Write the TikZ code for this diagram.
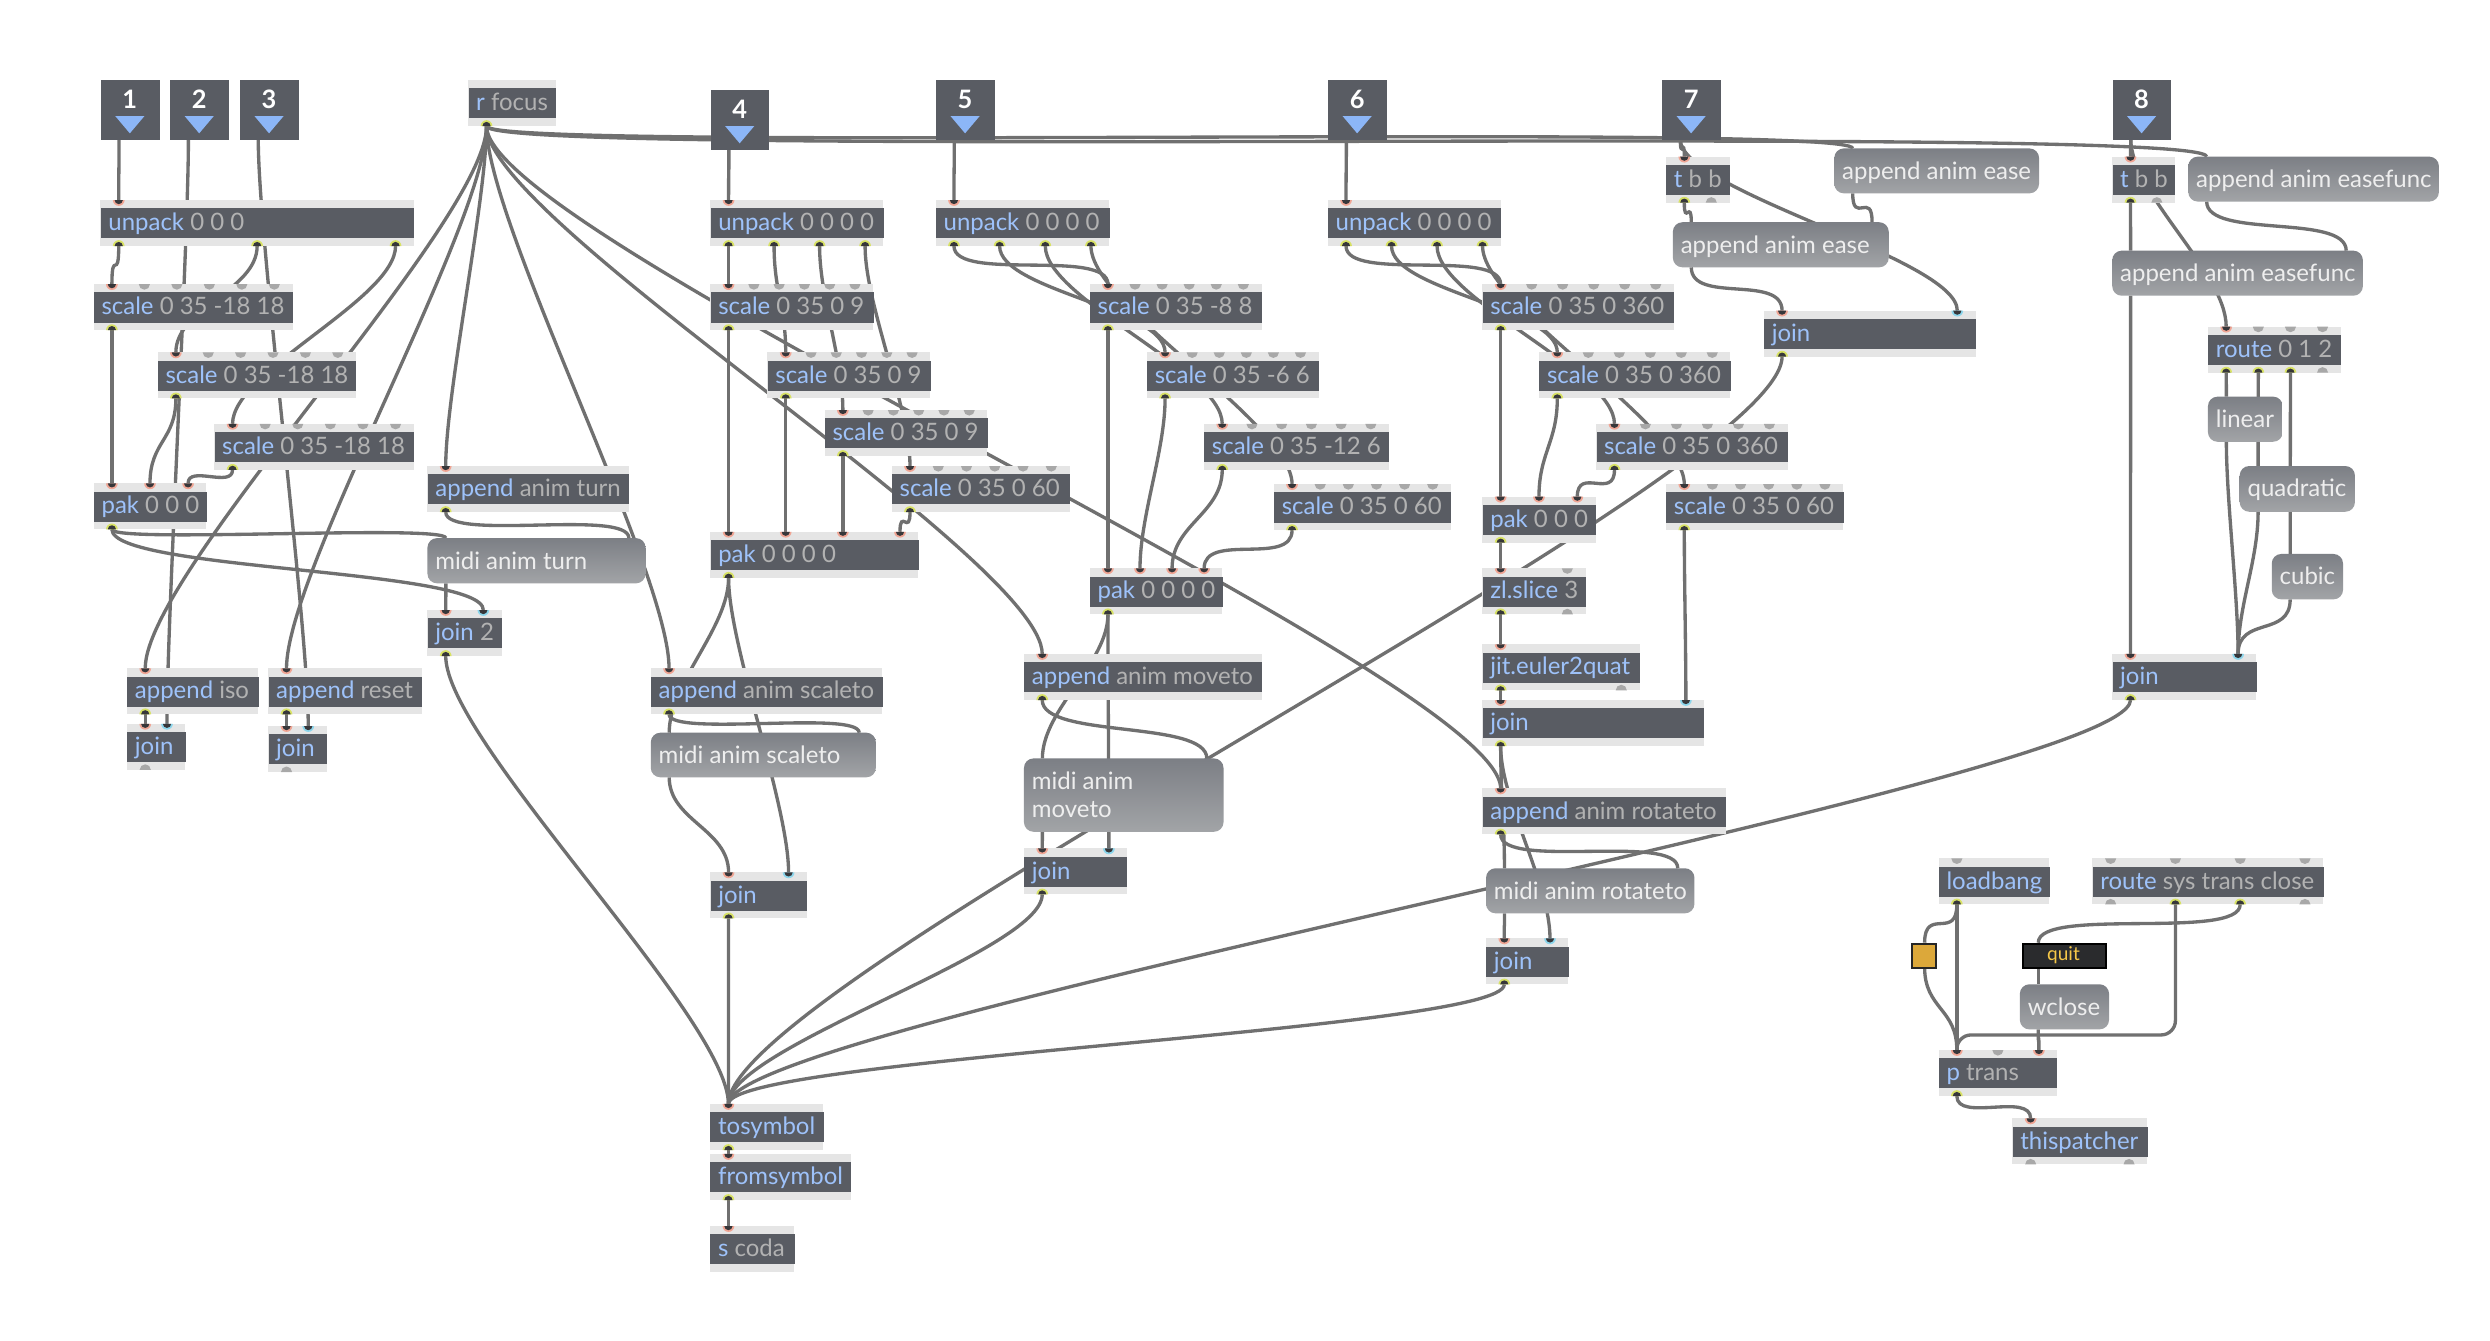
\documentclass[tikz,border=0pt]{standalone}
\usepackage{fontspec}
\setmainfont{Lato}
\usetikzlibrary{calc}
\definecolor{objfill}{RGB}{89,92,99}
\definecolor{stripc}{RGB}{229,229,229}
\definecolor{clsc}{RGB}{158,194,250}
\definecolor{argc}{RGB}{178,178,178}
\definecolor{msgtop}{RGB}{124,127,133}
\definecolor{msgbot}{RGB}{162,164,167}
\definecolor{msgtxt}{RGB}{238,238,238}
\definecolor{tric}{RGB}{140,182,247}
\definecolor{ringh}{RGB}{240,165,148}
\definecolor{ringc}{RGB}{140,214,236}
\definecolor{ringy}{RGB}{216,226,100}
\definecolor{dotcore}{RGB}{55,55,58}
\definecolor{dotg}{RGB}{168,168,168}
\definecolor{cordc}{RGB}{112,112,112}
\definecolor{togc}{RGB}{220,168,58}
\definecolor{quitc}{RGB}{42,43,45}
\definecolor{quittxt}{RGB}{246,200,72}
\pgfdeclarelayer{bg}\pgfdeclarelayer{cords}
\pgfsetlayers{bg,cords,main}
\tikzset{
 cordst/.style={draw=cordc, line width=2.1pt},
 objtext/.style={inner sep=0pt, font=\fontsize{15.1}{18}\selectfont},
 msgtext/.style={inner sep=0pt, font=\fontsize{15.1}{18}\selectfont, text=msgtxt},
 numtext/.style={inner sep=0pt, font=\fontsize{16}{18}\selectfont\bfseries, text=white},
 boxfill/.style={fill=objfill, inner sep=0pt, anchor=north west},
}
\newcommand\mcount[1]{\gdef\mn{0}\foreach \s in {#1}{\pgfmathtruncatemacro\mtmp{\mn+1}\global\let\mn\mtmp}}
% #1 name #2 x1 #3 x2 #4 ytop #5 list
\newcommand\mdotsin[5]{\mcount{#5}%
 \foreach \s [count=\i] in {#5}{%
  \pgfmathsetmacro\ix{#2+11.5+(\i-1)*(#3-#2-23)/max(\mn-1,1)}%
  \coordinate (#1-i\i) at (\ix,-#4);%
  \if\s n\else
   \if\s g
    \fill[dotg] (\ix-3.5,-#4) arc[start angle=180,end angle=360,radius=3.5] -- cycle;
   \else
    \fill[fill=ring\s] (\ix-3.7,-#4) arc[start angle=180,end angle=360,radius=3.7] -- cycle;
    \fill[dotcore] (\ix-2.6,-#4) arc[start angle=180,end angle=360,radius=2.6] -- cycle;
   \fi
  \fi}}
\newcommand\mdotsout[5]{\mcount{#5}%
 \pgfmathsetmacro\oy{#4+29}%
 \foreach \s [count=\i] in {#5}{%
  \pgfmathsetmacro\ix{#2+11.5+(\i-1)*(#3-#2-23)/max(\mn-1,1)}%
  \coordinate (#1-o\i) at (\ix,-\oy);%
  \if\s n\else
   \if\s g
    \fill[dotg] (\ix-3.5,-\oy) arc[start angle=180,end angle=0,radius=3.5] -- cycle;
   \else
    \fill[fill=ring\s] (\ix-3.7,-\oy) arc[start angle=180,end angle=0,radius=3.7] -- cycle;
    \fill[dotcore] (\ix-2.6,-\oy) arc[start angle=180,end angle=0,radius=2.6] -- cycle;
   \fi
  \fi}}
% name x1 ytop x2 class args inlets outlets
\newcommand\mobj[8]{%
 \fill[stripc] (#2,-#3) rectangle (#4,-#3-29);
 \node[boxfill, minimum width={(#4-#2)*1pt}, minimum height=19pt] (#1) at (#2,-#3-5) {};
 \node[objtext, anchor=base west] (#1-t) at (#2+4.8,-#3-19.3) {\textcolor{clsc}{#5}\ \textcolor{argc}{#6}};
 \mdotsin{#1}{#2}{#4}{#3}{#7}
 \mdotsout{#1}{#2}{#4}{#3}{#8}}
% name x1 ytop x2 ybot text
\newcommand\mmsg[6]{%
 \shade[top color=msgtop, bottom color=msgbot, rounded corners=6pt] (#2,-#3) rectangle (#4,-#5);
 \node[msgtext, anchor=base west] (#1) at (#2+4.8,-#3-19.5) {#6};
 \coordinate (#1-i1) at (#2+11.6,-#3);
 \coordinate (#1-i2) at (#4-10.5,-#3);
 \coordinate (#1-o1) at (#2+11.6,-#5);}
% name x1 ytop number
\newcommand\minbox[4]{%
 \node[boxfill, minimum width=37pt, minimum height=37.4pt] (#1) at (#2,-#3) {};
 \node[numtext, anchor=base] (#1-t) at (#2+18.5,-#3-18) {#4};
 \fill[tric] (#2+9.3,-#3-22.7) -- (#2+27.7,-#3-22.7) -- (#2+18.5,-#3-33.6) -- cycle;
 \coordinate (#1-o) at (#2+11.7,-#3-37.4);}
\newcommand\cord[2]{\draw[cordst] let \p1=(#1), \p2=(#2), \n1={min(20+0.12*abs(\y2-\y1),0.9*abs(\y2-\y1)+4)} in (\p1) .. controls +(0,-\n1) and +(0,\n1) .. (\p2);}
\begin{document}
\begin{tikzpicture}[x=1pt,y=1pt]
\useasboundingbox (0,0) rectangle (1568.7,-844.2);
\begin{pgfonlayer}{bg}
\fill[white] (0,0) rectangle (1568.7,-844.2);
\end{pgfonlayer}
% inlet boxes
\minbox{in1}{63.3}{50.4}{1}
\minbox{in2}{107}{50.4}{2}
\minbox{in3}{151}{50.4}{3}
\minbox{in4}{447.5}{56.7}{4}
\minbox{in5}{589.5}{50.4}{5}
\minbox{in6}{836.5}{50.4}{6}
\minbox{in7}{1046.9}{50.4}{7}
\minbox{in8}{1330.7}{50.4}{8}
\mobj{rfocus}{295}{50.4}{350}{r}{focus}{n}{y}
% group A
\mobj{unpackA}{63.3}{126}{260.7}{unpack}{0 0 0}{h}{y,y,y}
\mobj{scaleA1}{59}{179}{184.3}{scale}{0 35 -18 18}{h,g,g,g,g,g}{y}
\mobj{scaleA2}{99.3}{222}{224.3}{scale}{0 35 -18 18}{h,g,g,g,g,g}{y}
\mobj{scaleA3}{135}{267}{260.7}{scale}{0 35 -18 18}{h,g,g,g,g,g}{y}
\mobj{pakA}{59}{304.5}{130}{pak}{0 0 0}{h,h,h}{y}
\mobj{appturn}{269.3}{293.6}{396}{append}{anim turn}{h}{y}
\mmsg{miditurn}{269.3}{339}{406.7}{367.5}{midi anim turn}
\mobj{join2}{269.3}{384.3}{316}{join}{2}{h,c}{y}
\mobj{appiso}{80}{421}{162.7}{append}{iso}{h}{y}
\mobj{joiniso}{80}{456}{116.7}{join}{}{h,c}{g}
\mobj{appreset}{169}{421}{265.7}{append}{reset}{h}{y}
\mobj{joinreset}{169}{457.4}{205.7}{join}{}{h,c}{g}
% group B
\mobj{unpackB}{447.5}{126}{556.5}{unpack}{0 0 0 0}{h}{y,y,y,y}
\mobj{scaleB1}{447.5}{179}{550.1}{scale}{0 35 0 9}{h,g,g,g,g,g}{y}
\mobj{scaleB2}{483.5}{222}{586.1}{scale}{0 35 0 9}{h,g,g,g,g,g}{y}
\mobj{scaleB3}{519.5}{258.3}{622.1}{scale}{0 35 0 9}{h,g,g,g,g,g}{y}
\mobj{scaleB4}{561.8}{293.6}{673.8}{scale}{0 35 0 60}{h,g,g,g,g,g}{y}
\mobj{pakB}{447.5}{335}{578.5}{pak}{0 0 0 0}{h,h,h,h}{y}
\mobj{appscale}{410}{421}{555.8}{append}{anim scaleto}{h}{y}
\mmsg{midiscale}{410}{461.6}{551.8}{489.7}{midi anim scaleto}
\mobj{joinscale}{447.5}{549.6}{508.3}{join}{}{h,c}{y}
% group C
\mobj{unpackC}{589.5}{126}{698.8}{unpack}{0 0 0 0}{h}{y,y,y,y}
\mobj{scaleC1}{686.5}{179}{794.8}{scale}{0 35 -8 8}{h,g,g,g,g,g}{y}
\mobj{scaleC2}{722.5}{222}{830.8}{scale}{0 35 -6 6}{h,g,g,g,g,g}{y}
\mobj{scaleC3}{758.5}{267}{875.1}{scale}{0 35 -12 6}{h,g,g,g,g,g}{y}
\mobj{scaleC4}{802.5}{305}{914.1}{scale}{0 35 0 60}{h,g,g,g,g,g}{y}
\mobj{pakC}{686.5}{358}{770.1}{pak}{0 0 0 0}{h,h,h,h}{y}
\mobj{appmove}{645.1}{412}{794.8}{append}{anim moveto}{h}{y}
\mmsg{midimove}{645.1}{477.8}{770.8}{524}{midi anim}
\node[msgtext, anchor=base west] (midimove-t2) at (649.9,-515.1) {moveto};
\mobj{joinmove}{645.1}{534.5}{710.1}{join}{}{h,c}{y}
% group D
\mobj{unpackD}{836.5}{126}{945.5}{unpack}{0 0 0 0}{h}{y,y,y,y}
\mobj{scaleD1}{933.9}{179}{1054.6}{scale}{0 35 0 360}{h,g,g,g,g,g}{y}
\mobj{scaleD2}{969.6}{222}{1090.2}{scale}{0 35 0 360}{h,g,g,g,g,g}{y}
\mobj{scaleD3}{1005.6}{267}{1126.2}{scale}{0 35 0 360}{h,g,g,g,g,g}{y}
\mobj{scaleD4}{1049.6}{305}{1161.2}{scale}{0 35 0 60}{h,g,g,g,g,g}{y}
\mobj{pakD}{933.9}{312.9}{1005.2}{pak}{0 0 0}{h,h,h}{y}
\mobj{zlslice}{933.9}{358}{998.9}{zl.slice}{3}{h,g}{y,g}
\mobj{euler}{933.9}{405.9}{1032.9}{jit.euler2quat}{}{h}{y,g}
\mobj{joinrot}{933.9}{441}{1073.6}{join}{}{h,c}{y}
\mobj{approt}{933.9}{496.7}{1087.2}{append}{anim rotateto}{h}{y}
\mmsg{midirot}{936.2}{547}{1067.5}{575.4}{midi anim rotateto}
\mobj{joinrot2}{936.2}{591.2}{988}{join}{}{h,c}{y}
% group E (7)
\mobj{tbbA}{1049.6}{98.7}{1089.6}{t}{b b}{h}{y,g}
\mmsg{easeU}{1155.6}{93.5}{1284.6}{121.8}{append anim ease}
\mmsg{easeL}{1053.9}{140}{1189.9}{168.4}{append anim ease}
\mobj{joinease}{1111.2}{195.7}{1244.6}{join}{}{h,c}{y}
% group F (8)
\mobj{tbbB}{1330.7}{98.7}{1370.3}{t}{b b}{h}{y,g}
\mmsg{efU}{1378.6}{98.7}{1536.5}{127}{append anim easefunc}
\mmsg{efL}{1330.7}{157.9}{1488.6}{186.3}{append anim easefunc}
\mobj{routeA}{1391}{205.8}{1474.7}{route}{0 1 2}{h,g,g,g}{y,y,y,g}
\mmsg{linear}{1391}{249.9}{1438.1}{278.3}{linear}
\mmsg{quadratic}{1411}{293.6}{1483.6}{322.4}{quadratic}
\mmsg{cubic}{1431.2}{349}{1476.1}{377.6}{cubic}
\mobj{join8}{1330.7}{412}{1421.5}{join}{}{h,c}{y}
% bottom
\mobj{tosym}{447.4}{695.5}{518.6}{tosymbol}{}{h}{y}
\mobj{fromsym}{447.4}{727}{536.2}{fromsymbol}{}{h}{y}
\mobj{scoda}{447.4}{772.4}{500.4}{s}{coda}{h}{n}
\mobj{loadbang}{1221.3}{540.8}{1291.1}{loadbang}{}{g}{y}
\mobj{routesys}{1318.2}{540.8}{1463.6}{route}{sys trans close}{g,g,g,g}{g,y,y,g}
\node[fill=togc, draw=black!85, line width=1.2pt, minimum width=15.2pt, minimum height=15.5pt, inner sep=0pt, anchor=north west] (toggle) at (1203.8,-593.9) {};
\coordinate (toggle-i1) at (1212.5,-593.9);
\coordinate (toggle-o1) at (1212.5,-609.4);
\node[fill=quitc, draw=black, line width=1.2pt, minimum width=52pt, minimum height=15.5pt, inner sep=0pt, anchor=north west] (quit) at (1273.9,-593.9) {};
\node[inner sep=0pt, font=\fontsize{12}{14}\selectfont, text=quittxt] (quit-t) at (1300,-601.9) {quit};
\coordinate (quit-i1) at (1284.1,-593.9);
\coordinate (quit-o1) at (1284.1,-609.4);
\mmsg{wclose}{1272.5}{620.1}{1328.7}{648.5}{wclose}
\mobj{ptrans}{1221.3}{661.5}{1296}{p}{trans}{h,g,h}{y}
\mobj{thisp}{1267.8}{704.6}{1352.8}{thispatcher}{}{h}{g,g}
% ---------------- cords
\begin{pgfonlayer}{cords}
% group A
\cord{in1-o}{unpackA-i1}
\cord{in2-o}{joiniso-i2}
\cord{in3-o}{joinreset-i2}
\cord{unpackA-o1}{scaleA1-i1}
\cord{unpackA-o2}{scaleA2-i1}
\cord{unpackA-o3}{scaleA3-i1}
\cord{scaleA1-o1}{pakA-i1}
\cord{scaleA2-o1}{pakA-i2}
\cord{scaleA3-o1}{pakA-i3}
\cord{pakA-o1}{miditurn-i1}
\cord{pakA-o1}{join2-i2}
\cord{rfocus-o1}{appturn-i1}
\cord{appturn-o1}{miditurn-i2}
\cord{miditurn-o1}{join2-i1}
\cord{join2-o1}{tosym-i1}
\cord{rfocus-o1}{appiso-i1}
\cord{rfocus-o1}{appreset-i1}
\cord{appiso-o1}{joiniso-i1}
\cord{appreset-o1}{joinreset-i1}
% group B
\cord{in4-o}{unpackB-i1}
\cord{unpackB-o1}{scaleB1-i1}
\cord{unpackB-o2}{scaleB2-i1}
\cord{unpackB-o3}{scaleB3-i1}
\cord{unpackB-o4}{scaleB4-i1}
\cord{scaleB1-o1}{pakB-i1}
\cord{scaleB2-o1}{pakB-i2}
\cord{scaleB3-o1}{pakB-i3}
\cord{scaleB4-o1}{pakB-i4}
\cord{pakB-o1}{midiscale-i1}
\cord{pakB-o1}{joinscale-i2}
\cord{rfocus-o1}{appscale-i1}
\cord{appscale-o1}{midiscale-i2}
\cord{midiscale-o1}{joinscale-i1}
\cord{joinscale-o1}{tosym-i1}
% group C
\cord{in5-o}{unpackC-i1}
\cord{unpackC-o1}{scaleC1-i1}
\cord{unpackC-o2}{scaleC2-i1}
\cord{unpackC-o3}{scaleC3-i1}
\cord{unpackC-o4}{scaleC4-i1}
\cord{scaleC1-o1}{pakC-i1}
\cord{scaleC2-o1}{pakC-i2}
\cord{scaleC3-o1}{pakC-i3}
\cord{scaleC4-o1}{pakC-i4}
\cord{pakC-o1}{midimove-i1}
\cord{pakC-o1}{joinmove-i2}
\cord{rfocus-o1}{appmove-i1}
\cord{appmove-o1}{midimove-i2}
\cord{midimove-o1}{joinmove-i1}
\cord{joinmove-o1}{tosym-i1}
% group D
\cord{in6-o}{unpackD-i1}
\cord{unpackD-o1}{scaleD1-i1}
\cord{unpackD-o2}{scaleD2-i1}
\cord{unpackD-o3}{scaleD3-i1}
\cord{unpackD-o4}{scaleD4-i1}
\cord{scaleD1-o1}{pakD-i1}
\cord{scaleD2-o1}{pakD-i2}
\cord{scaleD3-o1}{pakD-i3}
\cord{pakD-o1}{zlslice-i1}
\cord{zlslice-o1}{euler-i1}
\cord{euler-o1}{joinrot-i1}
\cord{scaleD4-o1}{joinrot-i2}
\cord{joinrot-o1}{midirot-i1}
\cord{joinrot-o1}{joinrot2-i2}
\cord{rfocus-o1}{approt-i1}
\cord{approt-o1}{midirot-i2}
\cord{midirot-o1}{joinrot2-i1}
\cord{joinrot2-o1}{tosym-i1}
% group E
\cord{in7-o}{tbbA-i1}
\cord{tbbA-o1}{easeL-i1}
\cord{in7-o}{joinease-i2}
\cord{rfocus-o1}{easeU-i1}
\cord{easeU-o1}{easeL-i2}
\cord{easeL-o1}{joinease-i1}
\cord{joinease-o1}{tosym-i1}
% group F
\cord{in8-o}{tbbB-i1}
\cord{tbbB-o1}{efL-i1}
\cord{in8-o}{routeA-i1}
\cord{rfocus-o1}{efU-i1}
\cord{efU-o1}{efL-i2}
\cord{efL-o1}{join8-i1}
\cord{routeA-o1}{linear-i1}
\cord{routeA-o2}{quadratic-i1}
\cord{routeA-o3}{cubic-i1}
\cord{linear-o1}{join8-i2}
\cord{quadratic-o1}{join8-i2}
\cord{cubic-o1}{join8-i2}
\cord{join8-o1}{tosym-i1}
% bottom
\cord{tosym-o1}{fromsym-i1}
\cord{fromsym-o1}{scoda-i1}
\cord{loadbang-o1}{toggle-i1}
\cord{toggle-o1}{ptrans-i1}
\cord{loadbang-o1}{ptrans-i1}
\draw[cordst, rounded corners=9pt] (routesys-o2) |- ($(ptrans-i1)+(0,9.5)$) -- (ptrans-i1);
\cord{routesys-o3}{quit-i1}
\cord{quit-o1}{wclose-i1}
\cord{wclose-o1}{ptrans-i3}
\cord{ptrans-o1}{thisp-i1}
\end{pgfonlayer}
\end{tikzpicture}
\end{document}
